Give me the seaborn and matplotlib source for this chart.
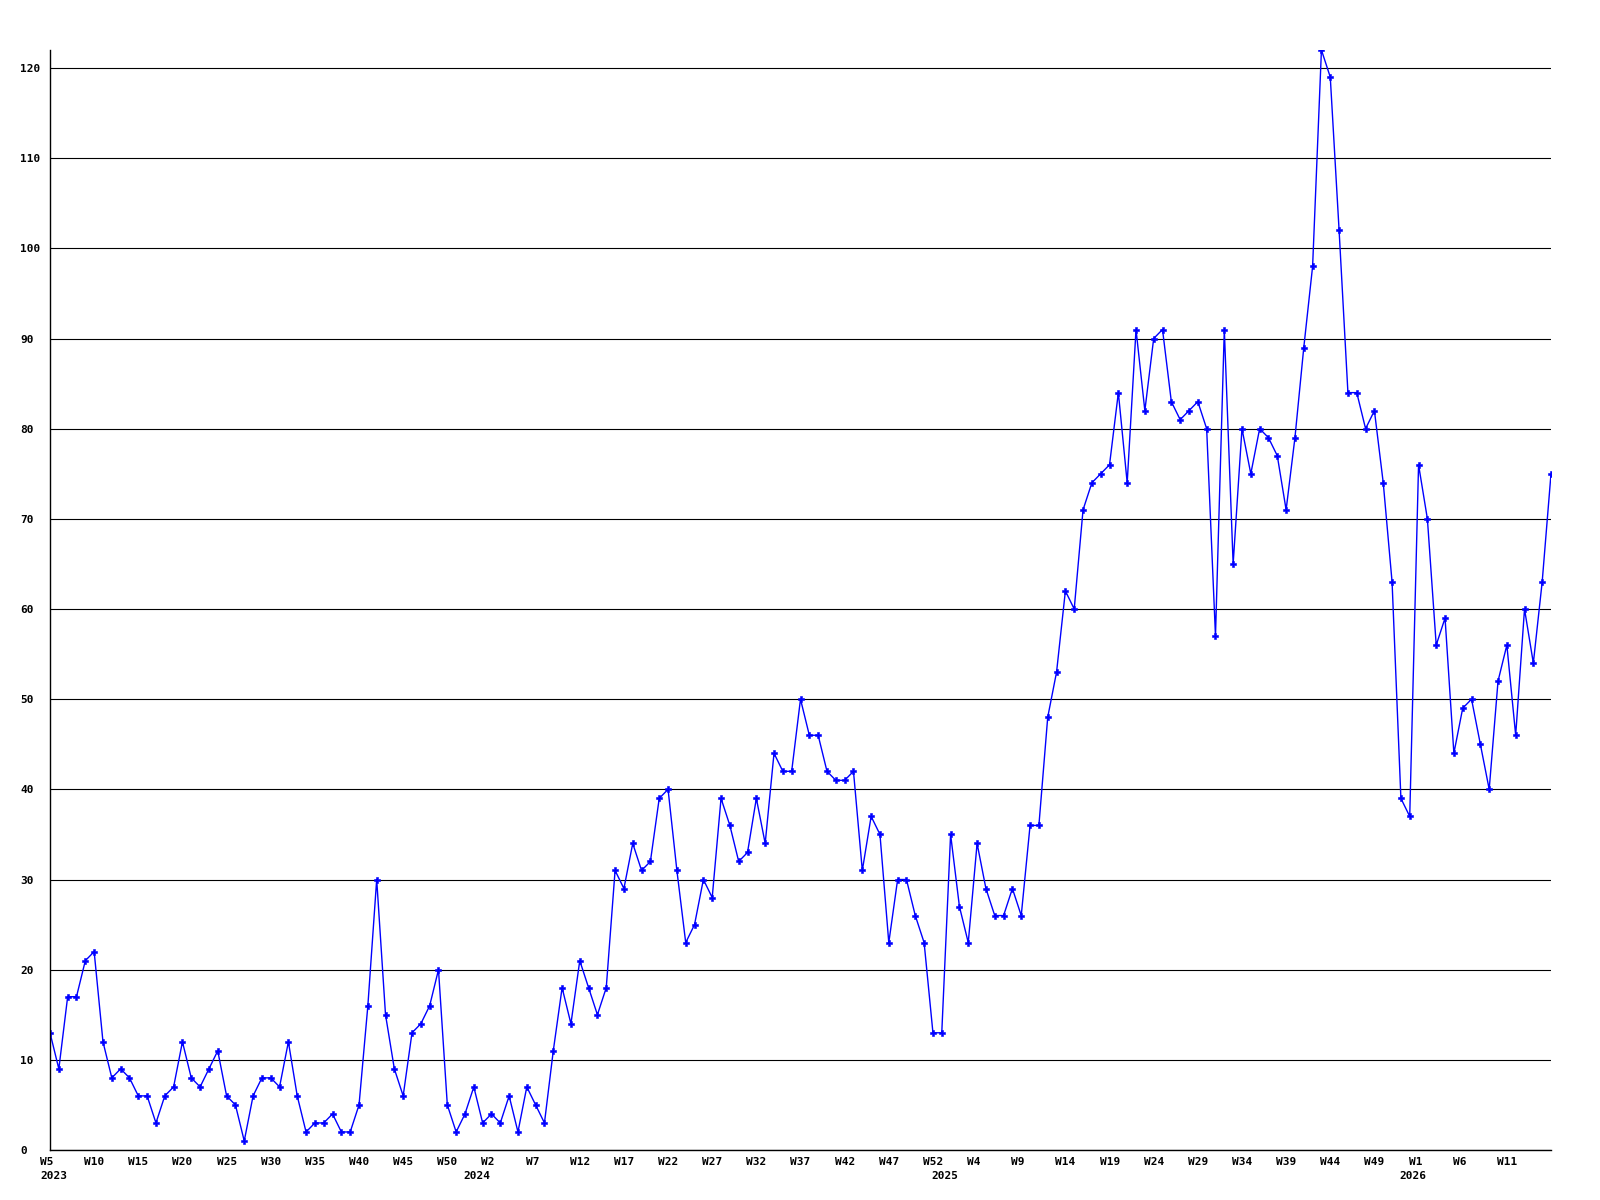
import numpy as np
import pandas as pd
import matplotlib
matplotlib.use("Agg")
import matplotlib.pyplot as plt
import matplotlib.transforms as mtransforms
import seaborn as sns

# ---- data (weekly counts) ----
values_2023 = [13, 9, 17, 17, 21, 22, 12, 8, 9, 8, 6, 6, 3, 6, 7, 12, 8, 7, 9, 11,
               6, 5, 1, 6, 8, 8, 7, 12, 6, 2, 3, 3, 4, 2, 2, 5, 16, 30, 15, 9,
               6, 13, 14, 16, 20, 5, 2, 4]                      # W5 .. W52
values_2024 = [7, 3, 4, 3, 6, 2, 7, 5, 3, 11, 18, 14, 21, 18, 15, 18, 31, 29, 34, 31,
               32, 39, 40, 31, 23, 25, 30, 28, 39, 36, 32, 33, 39, 34, 44, 42, 42, 50, 46, 46,
               42, 41, 41, 42, 31, 37, 35, 23, 30, 30, 26, 23, 13]  # W0 .. W52
values_2025 = [13, 35, 27, 23, 34, 29, 26, 26, 29, 26, 36, 36, 48, 53, 62, 60, 71, 74, 75, 76,
               84, 74, 91, 82, 90, 91, 83, 81, 82, 83, 80, 57, 91, 65, 80, 75, 80, 79, 77, 71,
               79, 89, 98, 122, 119, 102, 84, 84, 80, 82, 74, 63, 39]  # W0 .. W52
values_2026 = [37, 76, 70, 56, 59, 44, 49, 50, 45, 40, 52, 56, 46, 60, 54, 63, 75]  # W0 .. W16

years = [2023, 2024, 2025, 2026]
first_weeks = [5, 0, 0, 0]
series = [values_2023, values_2024, values_2025, values_2026]
y_ticks = list(range(0, 121, 10))

rows = []
for yr, fw, vals in zip(years, first_weeks, series):
    for k, v in enumerate(vals):
        rows.append((yr, fw + k, v))
df = pd.DataFrame(rows, columns=["year", "week", "value"])
df["idx"] = np.arange(len(df))

# ---- style ----
sns.set_style("white")
plt.rcParams["font.family"] = ["DejaVu Sans Mono", "DejaVu Sans"]
plt.rcParams["font.weight"] = "bold"
plt.rcParams["text.color"] = "black"
plt.rcParams["xtick.color"] = "black"
plt.rcParams["ytick.color"] = "black"

W, H = 1600, 1200
fig = plt.figure(figsize=(16, 12), dpi=100)
ax = fig.add_axes([50 / W, 50 / H, 1501 / W, 1100 / H])

sns.lineplot(data=df, x="idx", y="value", ax=ax, color="#0000ff", linewidth=1.0,
             marker="P", markersize=4.5, markeredgewidth=0.4, markeredgecolor="#0000ff",
             markerfacecolor="#0000ff")

ax.set_xlim(0, len(df) - 1)
ax.set_ylim(0, 122)
ax.set_xlabel("")
ax.set_ylabel("")

# horizontal grid
ax.set_yticks(y_ticks)
ax.set_yticklabels([str(t) for t in y_ticks], ha="left", fontsize=8, fontweight="bold",
                   color="black")
ax.tick_params(axis="y", length=0, pad=21.3, labelcolor="black")
ax.yaxis.grid(True, color="black", linewidth=0.8)
ax.xaxis.grid(False)
ax.set_axisbelow(True)

for s in ["top", "right"]:
    ax.spines[s].set_visible(False)
for s in ["left", "bottom"]:
    ax.spines[s].set_color("black")
    ax.spines[s].set_linewidth(1.0)

# week tick labels every 5 points
tick_idx = [i for i in df["idx"] if i % 5 == 0 and i <= len(df) - 6]
ax.set_xticks(tick_idx)
ax.set_xticklabels([f"W{df['week'][i]}" for i in tick_idx], ha="left",
                   fontsize=8, fontweight="bold", color="black")
ax.tick_params(axis="x", length=0, pad=5, labelcolor="black")
offset = mtransforms.ScaledTranslation(-10 / 100, 0, fig.dpi_scale_trans)
for lab in ax.get_xticklabels():
    lab.set_transform(lab.get_transform() + offset)

# year labels at first point of each year
blend = mtransforms.blended_transform_factory(ax.transData, ax.transAxes)
for yr in years:
    i0 = int(df.index[df["year"] == yr][0])
    ax.text(i0, -0.019, str(yr), transform=blend + offset, ha="left", va="top",
            fontsize=8, fontweight="bold", color="black")

fig.savefig("out.png", dpi=100, facecolor="white")
